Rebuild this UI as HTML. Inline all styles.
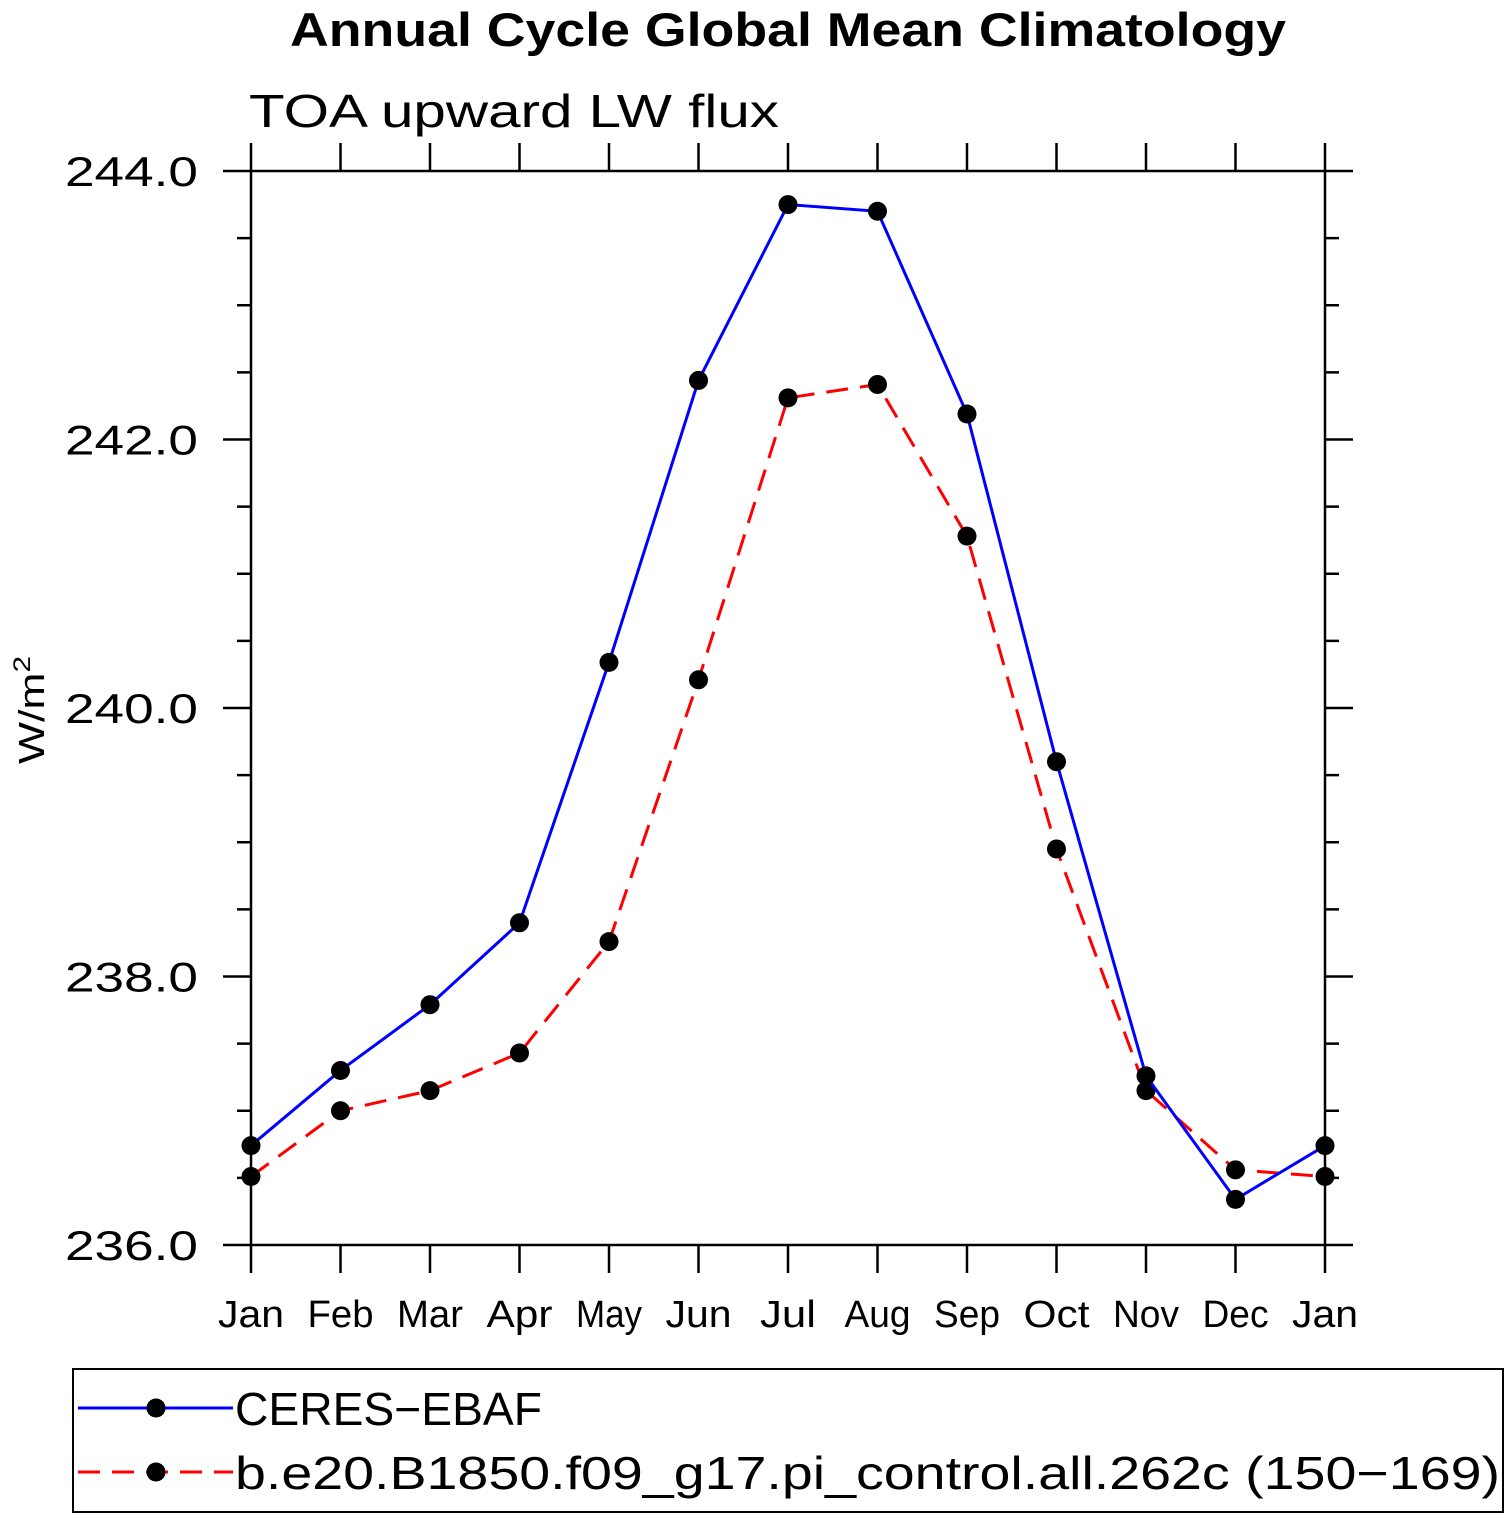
<!DOCTYPE html>
<html><head><meta charset="utf-8"><style>
html,body{margin:0;padding:0;background:#fff}
svg{display:block}
text{font-family:"Liberation Sans",sans-serif}
</style></head><body>
<svg id="chart" width="1510" height="1519" viewBox="0 0 1510 1519">
<text x="788" y="46" text-anchor="middle" font-size="47" font-weight="bold" textLength="996" lengthAdjust="spacingAndGlyphs">Annual Cycle Global Mean Climatology</text>
<text x="249" y="127" font-size="46" textLength="530" lengthAdjust="spacingAndGlyphs">TOA upward LW flux</text>
<text transform="translate(44,710) rotate(-90)" text-anchor="middle" font-size="36" textLength="108" lengthAdjust="spacingAndGlyphs">W/m<tspan dy="-14" font-size="24">2</tspan></text>
<g id="axes"></g>
<g id="series"></g>
<rect x="73" y="1369" width="1430" height="143" fill="none" stroke="#000" stroke-width="2"/>
<line x1="78" y1="1408" x2="233" y2="1408" stroke="#0000ff" stroke-width="3"/>
<circle cx="156" cy="1408" r="9.5" fill="#000"/>
<text x="235" y="1425" font-size="46" textLength="307" lengthAdjust="spacingAndGlyphs">CERES−EBAF</text>
<line x1="78" y1="1472" x2="233" y2="1472" stroke="#ff0000" stroke-width="3" stroke-dasharray="22,12"/>
<circle cx="156" cy="1472" r="9.5" fill="#000"/>
<text x="235" y="1489" font-size="46" textLength="1265" lengthAdjust="spacingAndGlyphs">b.e20.B1850.f09_g17.pi_control.all.262c (150−169)</text>
</svg>
<script>
const months=["Jan","Feb","Mar","Apr","May","Jun","Jul","Aug","Sep","Oct","Nov","Dec","Jan"];
const ceres=[236.74,237.30,237.79,238.40,240.34,242.44,243.75,243.70,242.19,239.60,237.26,236.34,236.74];
const model=[236.51,237.00,237.15,237.43,238.26,240.21,242.31,242.41,241.28,238.95,237.15,236.56,236.51];
const yTicks=["236.0","238.0","240.0","242.0","244.0"];
const NS="http://www.w3.org/2000/svg";
const L=251,R=1325,T=171,B=1245,yMin=236,yMax=244;
const xs=i=>L+i*(R-L)/(months.length-1);
const ys=v=>B-(v-yMin)/(yMax-yMin)*(B-T);
function mk(tag,at,parent){const e=document.createElementNS(NS,tag);for(const k in at)e.setAttribute(k,at[k]);parent.appendChild(e);return e;}
const ax=document.getElementById('axes');
const box=mk('rect',{x:L,y:T,width:R-L,height:B-T,fill:'none',stroke:'#000','stroke-width':2.5},ax);


months.forEach((m,i)=>{
  const x=xs(i);
  const t1=mk('line',{x1:x,y1:B,x2:x,y2:B+28,stroke:'#000','stroke-width':2.5},ax);
  
  
  const t2=mk('line',{x1:x,y1:T,x2:x,y2:T-28,stroke:'#000','stroke-width':2.5},ax);
  
  
  const tx=mk('text',{x:x,y:B+82,'text-anchor':'middle','font-size':38,textLength:(m.length===3?(m==="Jul"?56:66):66),lengthAdjust:'spacingAndGlyphs'},ax);
  tx.textContent=m;
  
  
});
for(let v=yMin;v<=yMax+1e-9;v+=0.5){
  const y=ys(v),major=Math.abs(v-Math.round(v/2)*2)<1e-9;
  const len=major?28:14;
  const a=mk('line',{x1:L-len,y1:y,x2:L,y2:y,stroke:'#000','stroke-width':2.5},ax);
  
  
  const b=mk('line',{x1:R,y1:y,x2:R+len,y2:y,stroke:'#000','stroke-width':2.5},ax);
  
  
}
yTicks.forEach(s=>{
  const t=mk('text',{x:198,y:ys(parseFloat(s))+15,'text-anchor':'end','font-size':42,textLength:133,lengthAdjust:'spacingAndGlyphs'},ax);
  t.textContent=s;
  
  
});
const sg=document.getElementById('series');
function series(vals,color,dash,name){
  const pts=vals.map((v,i)=>xs(i)+','+ys(v)).join(' ');
  const pl=mk('polyline',{points:pts,fill:'none',stroke:color,'stroke-width':3,'stroke-dasharray':dash},sg);
  
  
  vals.forEach((v,i)=>{
    const c=mk('circle',{cx:xs(i),cy:ys(v),r:9.5,fill:'#000'},sg);
    
    
  });
}
series(model,'#ff0000','22,12','model');
series(ceres,'#0000ff','none','ceres');
</script>
</body></html>
